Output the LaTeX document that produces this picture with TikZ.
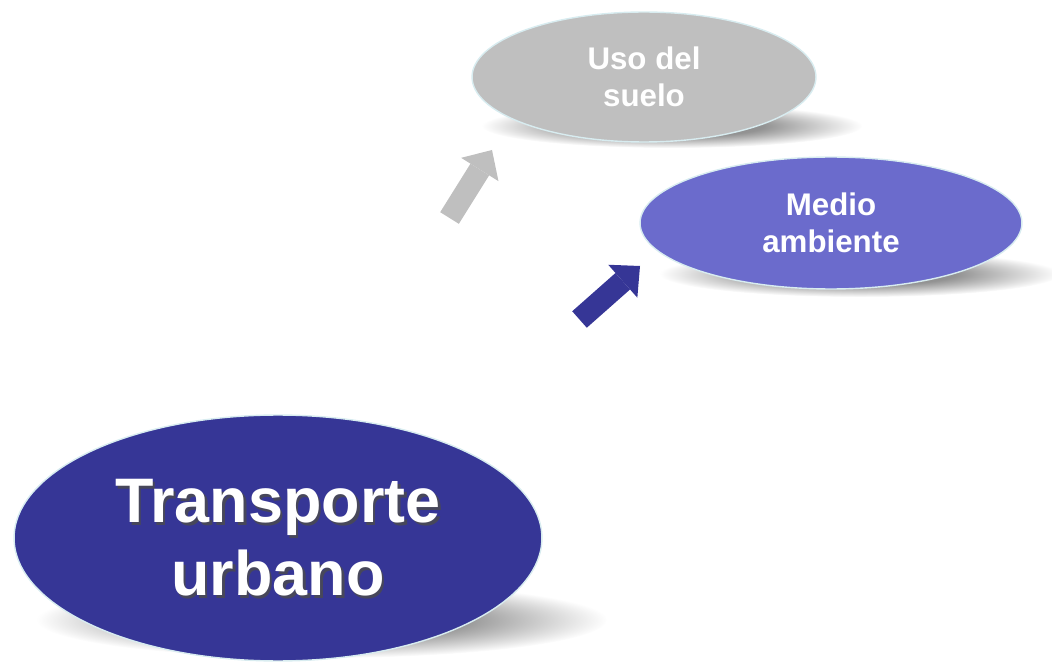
\documentclass[tikz,border=0pt]{standalone}
\usepackage{fontspec}
\setmainfont{Liberation Sans}
\usetikzlibrary{arrows.meta,fadings,shapes.geometric}
\definecolor{sueloGray}{HTML}{BFBFBF}
\definecolor{medioBlue}{HTML}{6B6BCC}
\definecolor{urbBlue}{HTML}{363696}
\definecolor{rimBlue}{HTML}{D8ECF0}
\pgfdeclareradialshading{softshade}{\pgfpointorigin}{%
  color(0bp)=(pgftransparent!0); color(12bp)=(pgftransparent!15);
  color(25bp)=(pgftransparent!100); color(50bp)=(pgftransparent!100)}
\pgfdeclarefading{softband}{\pgfuseshading{softshade}}
\tikzset{
  bubble/.style={ellipse, draw=rimBlue, line width=0.8pt, inner sep=0pt,
    text=white, align=center, font=\bfseries\fontsize{17.8}{21}\selectfont},
  bigtext/.style={align=center, inner sep=0pt,
    font=\bfseries\fontsize{35.8}{41.4}\selectfont},
  ground/.style={fill=black!50, path fading=softband},
  push/.style={line width=0.44cm,
    -{Triangle[width=0.88cm,length=0.46cm,line width=0pt]}},
}
\begin{document}
\begin{tikzpicture}[x=0.02cm,y=-0.02cm]
  \useasboundingbox (0,0) rectangle (1052,662);
  % soft shadows under the bubbles
  \fill[ground] (672,126) ellipse [x radius=190, y radius=22];
  \fill[ground] (860,274) ellipse [x radius=200, y radius=23];
  \fill[ground] (322,620) ellipse [x radius=285, y radius=38];
  % bubbles
  \node[bubble, fill=sueloGray, minimum width=6.88cm, minimum height=2.6cm]
    (suelo) at (644,77) {Uso del\\suelo};
  \node[bubble, fill=medioBlue, minimum width=7.64cm, minimum height=2.64cm]
    (medio) at (831,223) {Medio\\ambiente};
  \node[bubble, fill=urbBlue, minimum width=10.56cm, minimum height=4.92cm]
    (urbano) at (278,538) {};
  \node[bigtext, text=black!70, opacity=0.8] (urbshade)
    at ([shift={(0.05cm,-0.05cm)}]urbano.center) {Transporte\\urbano};
  \node[bigtext, text=white] (urbtext) at (urbano.center) {Transporte\\urbano};
  % block arrows
  \coordinate (gtail) at (449.5,218);
  \coordinate (gtip) at (492,150);
  \coordinate (btail) at (579.5,319.5);
  \coordinate (btip) at (640,266);
  \draw[push, sueloGray] (gtail) -- (gtip);
  \draw[push, urbBlue] (btail) -- (btip);
\end{tikzpicture}
\end{document}
